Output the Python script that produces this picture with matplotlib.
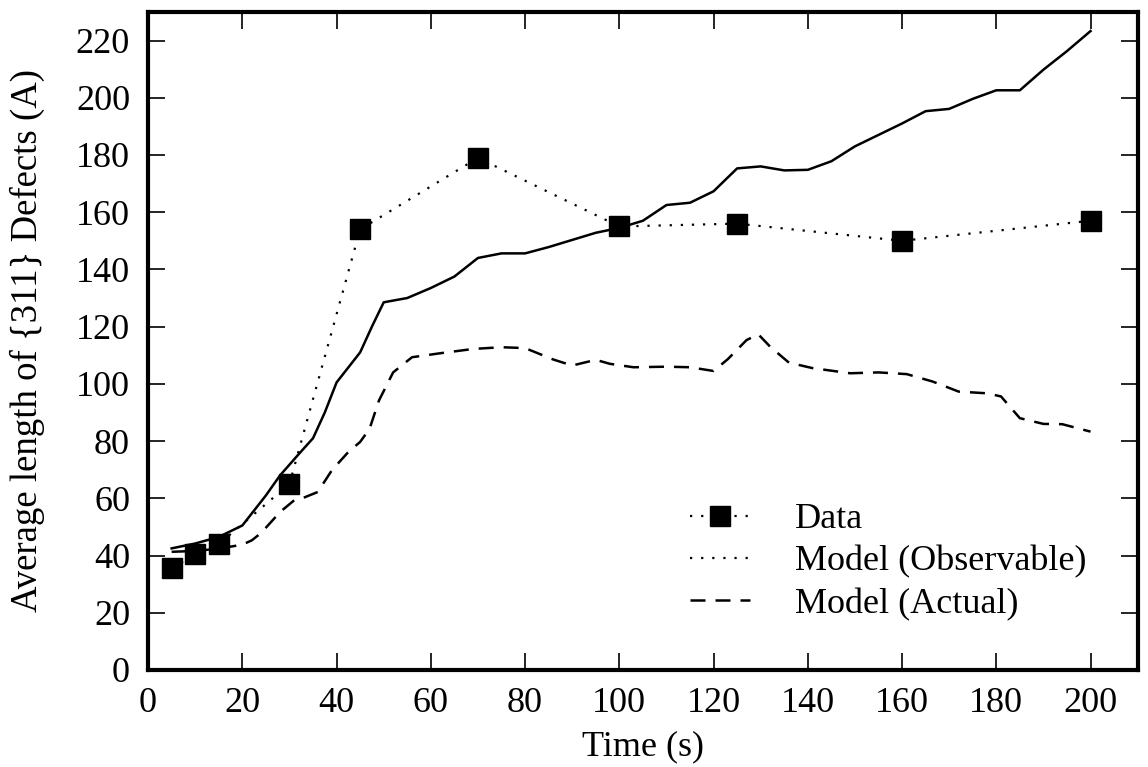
import matplotlib
matplotlib.use('Agg')
import matplotlib.pyplot as plt
from matplotlib.lines import Line2D

# measured data (squares)
data_t = [5, 10, 15, 30, 45, 70, 100, 125, 160, 200]
data_len = [35.5, 40.5, 44, 65, 154, 179, 155, 156, 150, 157]

# model (observable) - solid curve
obs_t = [5, 10, 15, 20, 25, 28, 32, 35, 37.5, 40, 45, 47.5, 50, 55, 60, 65, 70,
         75, 80, 85, 90, 95, 100, 105, 110, 115, 120, 125, 130, 135, 140, 145,
         150, 155, 160, 165, 170, 175, 180, 185, 190, 195, 200]
obs_len = [42.5, 44.2, 46.5, 50.5, 61, 68, 75.5, 81, 90, 100.5, 111, 120, 128.5,
           130, 133.5, 137.5, 144, 145.6, 145.6, 147.8, 150.3, 152.8, 154.5, 157,
           162.5, 163.3, 167.3, 175.3, 176, 174.6, 174.8, 177.8, 183, 187, 191,
           195.3, 196.1, 199.6, 202.6, 202.6, 209.8, 216.3, 223.3]

# model (actual) - dashed curve
act_t = [5, 10, 15, 20, 22, 24, 28, 31, 33, 36, 39, 42.5, 45, 47, 49, 52, 56, 62,
         69, 75, 80, 83, 86, 90, 95, 98, 103, 110, 115, 120, 123, 127, 129.5, 132,
         136, 141, 149, 155, 161, 166.5, 172, 178, 181, 185, 190, 194, 200]
act_len = [41.3, 41.6, 42.4, 43.8, 45.3, 47.9, 55.2, 59.3, 60.2, 62.2, 69.8, 76.2,
           79.7, 84.3, 94.2, 104, 109.3, 110.7, 112.2, 112.8, 112.5, 110.5, 108.5,
           106.4, 108.4, 107, 105.8, 106, 105.8, 104.5, 108.6, 115.3, 117.3, 113,
           107.4, 105.5, 103.7, 104, 103.4, 100.8, 97.3, 96.7, 95.6, 88, 86, 85.9,
           83.3]

plt.rcParams['font.family'] = 'Liberation Serif'
plt.rcParams['font.size'] = 26

fig = plt.figure(figsize=(11.48, 7.67), dpi=100)
ax = fig.add_axes([0.129, 0.1265, 0.862, 0.858])

dotted = (0, (1, 4))
dashed = (0, (6, 4))

ax.plot(data_t, data_len, color='black', linestyle=dotted, linewidth=1.6,
        marker='s', markersize=14)
ax.plot(obs_t, obs_len, color='black', linestyle='-', linewidth=1.8,
        solid_joinstyle='round')
ax.plot(act_t, act_len, color='black', linestyle=dashed, linewidth=1.8)

ax.set_xlim(0, 210)
ax.set_ylim(0, 230)
ax.set_xticks(range(0, 201, 20))
ax.set_yticks(range(0, 221, 20))
ax.tick_params(direction='in', length=12, width=1.2, top=True, right=True,
               labelsize=26)
ax.tick_params(axis='x', pad=12)
ax.tick_params(axis='y', pad=13)
for s in ax.spines.values():
    s.set_linewidth(3)

ax.set_xlabel('Time (s)', fontsize=26, labelpad=8)
ax.set_ylabel('Average length of {311} Defects (A)', fontsize=26.5)
ax.yaxis.set_label_coords(-0.104, 0.5)

# legend (as shown in the original figure)
handles = [
    Line2D([], [], color='black', linestyle=dotted, linewidth=1.6, marker='s',
           markersize=14),
    Line2D([], [], color='black', linestyle=dotted, linewidth=1.6),
    Line2D([], [], color='black', linestyle=dashed, linewidth=1.8),
]
labels = ['Data', 'Model (Observable)', 'Model (Actual)']
ax.legend(handles, labels, loc='lower left', bbox_to_anchor=(0.515, 0.025),
          frameon=False, numpoints=1, handlelength=1.65, handletextpad=1.25,
          labelspacing=0.25, fontsize=26)

fig.savefig('out.png', dpi=100)
